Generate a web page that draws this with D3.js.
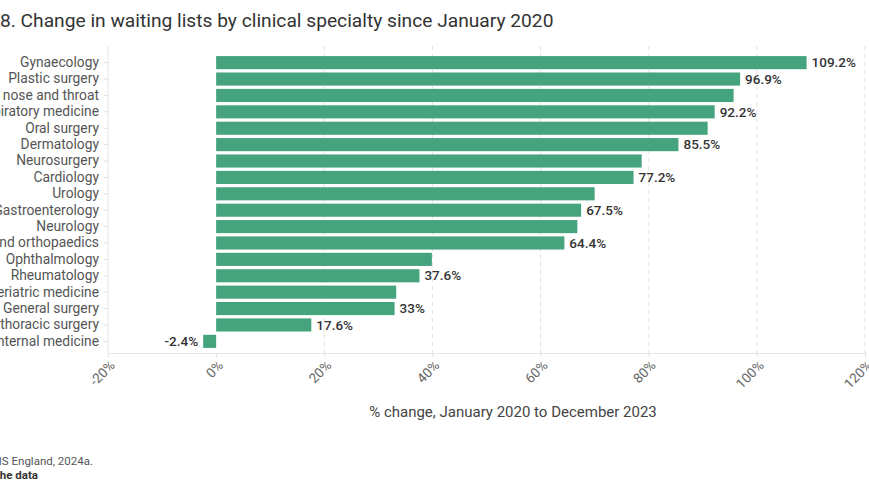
<!DOCTYPE html>
<html>
<head>
<meta charset="utf-8">
<script src="https://cdn.jsdelivr.net/npm/d3@7"></script>
<style>
  body { margin: 0; background: #fff; overflow: hidden; }
  svg { display: block; font-family: Roboto, "Noto Sans", sans-serif; }
</style>
</head>
<body>
<div id="chart"></div>
<script>
const specialties = [
  'Gynaecology', 'Plastic surgery', 'Ear, nose and throat', 'Respiratory medicine',
  'Oral surgery', 'Dermatology', 'Neurosurgery', 'Cardiology', 'Urology',
  'Gastroenterology', 'Neurology', 'Trauma and orthopaedics', 'Ophthalmology',
  'Rheumatology', 'Geriatric medicine', 'General surgery', 'Cardiothoracic surgery',
  'General internal medicine'
];
const changes = [109.2, 96.9, 95.7, 92.2, 90.9, 85.5, 78.7, 77.2, 70.0, 67.5, 66.8, 64.4, 39.9, 37.6, 33.3, 33, 17.6, -2.4];
// only some bars carry a value label in the original
const valueLabels = ['109.2%', '96.9%', null, '92.2%', null, '85.5%', null, '77.2%', null,
  '67.5%', null, '64.4%', null, '37.6%', null, '33%', '17.6%', '-2.4%'];
const xTicks = [-20, 0, 20, 40, 60, 80, 100, 120];

const width = 869, height = 504;
const svg = d3.select('#chart').append('svg')
  .attr('width', width)
  .attr('height', height);

const x = d3.scaleLinear().domain([-20, 120]).range([108, 865]);
const y = d3.scaleBand().domain(specialties).range([52, 352]).paddingInner(0.2).paddingOuter(0.25);

// title
svg.append('text')
  .attr('x', 0).attr('y', 27)
  .attr('font-size', 19.2)
  .attr('fill', '#333')
  .text('8. Change in waiting lists by clinical specialty since January 2020');

// dashed gridlines
svg.append('g')
  .selectAll('line')
  .data(xTicks.filter((d) => d > 0))
  .enter()
  .append('line')
  .attr('x1', (d) => x(d)).attr('x2', (d) => x(d))
  .attr('y1', 46).attr('y2', 353)
  .attr('stroke', '#e2e2e2')
  .attr('stroke-dasharray', '5,3');

// y axis
const yAxis = svg.append('g')
  .attr('transform', 'translate(' + x(-20) + ',0)')
  .call(d3.axisLeft(y).tickSize(4).tickPadding(5));
yAxis.select('.domain').attr('stroke', '#e6e6e6').attr('d', 'M0,46V353');
yAxis.selectAll('.tick line').attr('stroke', '#e0e0e0');
yAxis.selectAll('.tick text')
  .attr('font-size', 13.8)
  .attr('font-family', 'Roboto, sans-serif')
  .attr('fill', '#555');

// x axis
const xAxis = svg.append('g')
  .attr('transform', 'translate(0,353)')
  .call(d3.axisBottom(x).tickValues(xTicks).tickSize(4).tickFormat((d) => d + '%'));
xAxis.select('.domain').attr('stroke', '#e6e6e6');
xAxis.selectAll('.tick line').attr('stroke', '#e0e0e0');
xAxis.selectAll('.tick text')
  .attr('font-size', 13.5)
  .attr('font-family', 'Roboto, sans-serif')
  .attr('fill', '#666')
  .attr('text-anchor', 'end')
  .attr('x', 0)
  .attr('y', 0)
  .attr('dy', '0.35em')
  .attr('transform', 'translate(4,10) rotate(-45)');

// bars
svg.append('g')
  .selectAll('rect')
  .data(specialties)
  .enter()
  .append('rect')
  .attr('x', (d, i) => x(Math.min(0, changes[i])))
  .attr('y', (d) => y(d))
  .attr('width', (d, i) => Math.abs(x(changes[i]) - x(0)))
  .attr('height', y.bandwidth())
  .attr('fill', '#45a37e');

// value labels
svg.append('g')
  .selectAll('text')
  .data(specialties.filter((d, i) => valueLabels[i]))
  .enter()
  .append('text')
  .attr('x', (d) => {
    const v = changes[specialties.indexOf(d)];
    return v < 0 ? x(v) - 5 : x(v) + 5;
  })
  .attr('y', (d) => y(d) + y.bandwidth() / 2)
  .attr('dy', '0.35em')
  .attr('text-anchor', (d) => (changes[specialties.indexOf(d)] < 0 ? 'end' : 'start'))
  .attr('font-size', 13.5)
  .attr('font-weight', 500)
  .attr('fill', '#333')
  .text((d) => valueLabels[specialties.indexOf(d)]);

// axis title
svg.append('text')
  .attr('x', 513).attr('y', 417)
  .attr('text-anchor', 'middle')
  .attr('font-size', 15)
  .attr('fill', '#444')
  .text('% change, January 2020 to December 2023');

// source
svg.append('text')
  .attr('x', 93).attr('y', 465)
  .attr('text-anchor', 'end')
  .attr('font-size', 11.5)
  .attr('fill', '#555')
  .text('Source: NHS England, 2024a.');
svg.append('text')
  .attr('x', 38).attr('y', 479)
  .attr('text-anchor', 'end')
  .attr('font-size', 11.5)
  .attr('font-weight', 'bold')
  .attr('fill', '#333')
  .text('Get the data');
</script>
</body>
</html>
